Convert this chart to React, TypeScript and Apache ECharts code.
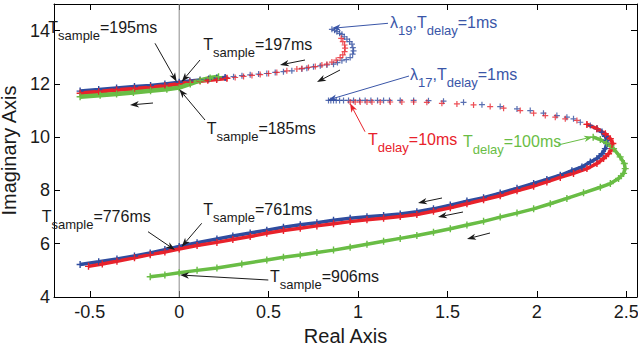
import React, { useEffect, useRef } from 'react';
import * as echarts from 'echarts';

const FONT = "'Liberation Sans', Arial, Helvetica, sans-serif";

// ---------- axis ticks ----------
const xTicks = [-0.5, 0, 0.5, 1, 1.5, 2, 2.5];
const yTicks = [4, 6, 8, 10, 12, 14];
const zeroLine = [[0, 4], [0, 15]];

// ---------- T_delay = 1 ms (blue) ----------
const blueUpperSparse = [
  [0.854, 14.05], [0.869, 14.01], [0.882, 13.96], [0.897, 13.9], [0.91, 13.86], [0.923, 13.77],
  [0.938, 13.68], [0.953, 13.59], [0.966, 13.49], [0.971, 13.36], [0.975, 13.24], [0.97, 13.12],
  [0.956, 12.99], [0.934, 12.91], [0.91, 12.87], [0.885, 12.8], [0.863, 12.74], [0.826, 12.71],
  [0.789, 12.68], [0.751, 12.64], [0.714, 12.59], [0.686, 12.56], [0.63, 12.49], [0.583, 12.46],
  [0.537, 12.43], [0.49, 12.39], [0.444, 12.37], [0.397, 12.34], [0.351, 12.31], [0.304, 12.27],
  [0.257, 12.24],
];
const blueUpperDense = [
  [0.257, 12.24], [0.21, 12.22], [0.165, 12.18], [0.117, 12.15], [0.06, 12.11], [0, 12.06],
  [-0.08, 12.0], [-0.16, 11.94], [-0.25, 11.9], [-0.35, 11.85], [-0.45, 11.79], [-0.554, 11.73],
];
const blueLowerSparse = [
  [0.835, 11.38], [0.848, 11.38], [0.863, 11.38], [0.878, 11.38], [0.897, 11.38], [0.919, 11.38],
  [0.947, 11.38], [0.975, 11.38], [1.009, 11.38], [1.04, 11.38], [1.072, 11.38], [1.109, 11.38],
  [1.143, 11.38], [1.176, 11.38], [1.236, 11.38], [1.311, 11.38], [1.394, 11.37], [1.478, 11.35],
  [1.59, 11.31], [1.693, 11.22], [1.795, 11.15], [1.889, 11.06], [1.963, 11.0], [2.037, 10.9],
  [2.112, 10.81], [2.168, 10.75], [2.205, 10.69], [2.243, 10.56], [2.299, 10.44], [2.336, 10.32],
];
const blueLowerDense = [
  [2.336, 10.32], [2.364, 10.19], [2.383, 10.03], [2.392, 9.88], [2.392, 9.76], [2.383, 9.57],
  [2.364, 9.38], [2.336, 9.2], [2.299, 9.07], [2.252, 8.88], [2.196, 8.74], [2.131, 8.57],
  [2.056, 8.41], [1.982, 8.26], [1.889, 8.08], [1.795, 7.9], [1.702, 7.73], [1.609, 7.6],
  [1.516, 7.45], [1.422, 7.31], [1.329, 7.2], [1.236, 7.12], [1.143, 7.06], [1.05, 7.01],
  [0.956, 6.96], [0.863, 6.88], [0.77, 6.79], [0.677, 6.71], [0.583, 6.62], [0.49, 6.51],
  [0.397, 6.4], [0.3, 6.29], [0.211, 6.18], [0.1, 6.04], [0, 5.9], [-0.08, 5.78],
  [-0.162, 5.65], [-0.25, 5.54], [-0.348, 5.43], [-0.45, 5.32], [-0.554, 5.22],
];

// ---------- T_delay = 10 ms (red) ----------
const redUpperSparse = [
  [0.906, 13.71], [0.915, 13.59], [0.925, 13.46], [0.928, 13.34], [0.925, 13.21], [0.915, 13.09],
  [0.9, 12.99], [0.878, 12.89], [0.854, 12.82], [0.826, 12.74], [0.798, 12.71], [0.761, 12.65],
  [0.723, 12.62], [0.686, 12.58], [0.658, 12.56], [0.602, 12.49], [0.546, 12.43], [0.5, 12.39],
  [0.453, 12.35], [0.407, 12.32], [0.36, 12.28], [0.313, 12.24], [0.267, 12.21],
];
const redUpperDense = [
  [0.267, 12.21], [0.21, 12.17], [0.16, 12.14], [0.117, 12.11], [0.06, 12.06], [0, 12.0],
  [-0.08, 11.93], [-0.16, 11.87], [-0.25, 11.82], [-0.35, 11.77], [-0.45, 11.71], [-0.554, 11.65],
];
const redLowerSparse = [
  [0.956, 11.32], [0.984, 11.32], [1.012, 11.32], [1.05, 11.32], [1.078, 11.32], [1.124, 11.32],
  [1.18, 11.32], [1.245, 11.32], [1.311, 11.32], [1.385, 11.31], [1.469, 11.27], [1.553, 11.25],
  [1.646, 11.21], [1.739, 11.15], [1.814, 11.09], [1.907, 11.0], [1.982, 10.9], [2.047, 10.81],
  [2.103, 10.75], [2.159, 10.69], [2.224, 10.63], [2.28, 10.48],
];
const redLowerDense = [
  [2.28, 10.48], [2.336, 10.32], [2.383, 10.13], [2.411, 9.94], [2.425, 9.76], [2.42, 9.57],
  [2.401, 9.38], [2.373, 9.2], [2.336, 9.01], [2.28, 8.82], [2.205, 8.64], [2.131, 8.49],
  [2.056, 8.32], [1.982, 8.16], [1.889, 7.99], [1.795, 7.8], [1.702, 7.65], [1.609, 7.5],
  [1.516, 7.35], [1.422, 7.22], [1.329, 7.1], [1.236, 7.02], [1.143, 6.96], [1.05, 6.9],
  [0.956, 6.83], [0.863, 6.75], [0.77, 6.67], [0.677, 6.58], [0.583, 6.5], [0.49, 6.39],
  [0.397, 6.27], [0.3, 6.16], [0.211, 6.05], [0.1, 5.93], [0, 5.8], [-0.08, 5.69],
  [-0.162, 5.59], [-0.25, 5.47], [-0.348, 5.34], [-0.43, 5.24], [-0.507, 5.15],
];

// ---------- T_delay = 100 ms (green) ----------
const greenUpper = [
  [0.22, 12.27], [0.173, 12.22], [0.117, 12.13], [0.062, 12.0], [0, 11.86], [-0.069, 11.8],
  [-0.16, 11.74], [-0.256, 11.68], [-0.35, 11.62], [-0.442, 11.57], [-0.554, 11.52],
];
const greenLower = [
  [2.315, 10.0], [2.355, 9.91], [2.39, 9.77], [2.429, 9.57], [2.466, 9.26], [2.489, 9.01],
  [2.494, 8.82], [2.485, 8.64], [2.457, 8.45], [2.411, 8.26], [2.355, 8.12], [2.261, 7.91],
  [2.168, 7.7], [2.075, 7.5], [1.982, 7.31], [1.889, 7.15], [1.795, 7.0], [1.702, 6.84],
  [1.609, 6.7], [1.516, 6.56], [1.422, 6.43], [1.329, 6.31], [1.236, 6.2], [1.143, 6.09],
  [1.05, 5.98], [0.956, 5.87], [0.863, 5.76], [0.77, 5.67], [0.677, 5.58], [0.583, 5.49],
  [0.49, 5.39], [0.35, 5.24], [0.211, 5.09], [0.1, 5.0], [0, 4.91], [-0.08, 4.83], [-0.162, 4.76],
];

// ---------- annotation texts ----------
type Seg = [string, boolean]; // [text, subscript]
const labelTexts: Seg[][] = [
  [['T', false], ['sample', true], ['=195ms', false]],
  [['T', false], ['sample', true], ['=197ms', false]],
  [['T', false], ['sample', true], ['=185ms', false]],
  [['T', false], ['sample', true], ['=776ms', false]],
  [['T', false], ['sample', true], ['=761ms', false]],
  [['T', false], ['sample', true], ['=906ms', false]],
  [['λ', false], ['19', true], [',', false], ['T', false], ['delay', true], ['=1ms', false]],
  [['λ', false], ['17', true], [',', false], ['T', false], ['delay', true], ['=1ms', false]],
  [['T', false], ['delay', true], ['=10ms', false]],
  [['T', false], ['delay', true], ['=100ms', false]],
];

const BLUE = '#2f4c9f';
const RED = '#e8222b';
const GREEN = '#69bd45';
const BLUE_T = '#3a56a8';
const BLACK = '#1a1a1a';

// layout of annotations (pixel positions: left, baseline)
const labelLayout = [
  { x: 48.3, y: 33.3, color: BLACK },
  { x: 203.3, y: 50, color: BLACK },
  { x: 206.7, y: 134, color: BLACK },
  { x: 41.7, y: 221.7, color: BLACK },
  { x: 203.3, y: 215, color: BLACK },
  { x: 270, y: 281.7, color: BLACK },
  { x: 390, y: 28.3, color: BLUE_T },
  { x: 410, y: 80, color: BLUE_T },
  { x: 368, y: 145, color: RED },
  { x: 463, y: 146.7, color: GREEN },
];

const arrowLayout = [
  { from: [155, 43.3], to: [176.7, 81.7], color: BLACK },
  { from: [200, 60], to: [181.7, 81.7], color: BLACK },
  { from: [205, 120], to: [179.3, 89.3], color: BLACK },
  { from: [148, 231.7], to: [175, 250], color: BLACK },
  { from: [201.7, 223.3], to: [181.7, 246.7], color: BLACK },
  { from: [268.3, 280], to: [180, 275], color: BLACK },
  { from: [388, 23.3], to: [331.7, 28.3], color: BLUE_T },
  { from: [409, 76], to: [328, 100], color: BLUE_T },
  { from: [365, 131.7], to: [350, 103.3], color: RED },
  { from: [558, 145], to: [593, 136.7], color: GREEN },
  { from: [305, 60], to: [280, 65], color: BLACK },
  { from: [340, 70], to: [317, 82], color: BLACK },
  { from: [153, 103], to: [130, 105], color: BLACK },
  { from: [442, 198], to: [418, 203], color: BLACK },
  { from: [463, 212], to: [438, 217], color: BLACK },
  { from: [490, 233], to: [467, 239], color: BLACK },
];

const CROSS = 'path://M2,0H3V2H5V3H3V5H2V3H0V2H2Z';
const MAIN_SIZE = 16;
const SUB_SIZE = 13;
const SUB_DROP = 7;

function buildGraphics(): any[] {
  const canvas = document.createElement('canvas');
  const ctx = canvas.getContext('2d')!;
  const measure = (t: string, size: number) => {
    ctx.font = `${size}px ${FONT}`;
    return ctx.measureText(t).width;
  };
  const out: any[] = [];
  labelTexts.forEach((segs, i) => {
    const lay = labelLayout[i];
    let cx = lay.x;
    segs.forEach(([t, sub]) => {
      const size = sub ? SUB_SIZE : MAIN_SIZE;
      const base = lay.y + (sub ? SUB_DROP : 0);
      out.push({
        type: 'text',
        x: cx,
        y: base - 0.3465 * size,
        z: 100,
        style: {
          text: t,
          font: `${size}px ${FONT}`,
          fill: lay.color,
          textAlign: 'left',
          textVerticalAlign: 'middle',
          align: 'left',
          verticalAlign: 'middle',
        },
      });
      cx += measure(t, size);
    });
  });
  arrowLayout.forEach((a) => {
    const [x1, y1] = a.from;
    const [x2, y2] = a.to;
    const dx = x2 - x1;
    const dy = y2 - y1;
    const len = Math.hypot(dx, dy);
    const ux = dx / len;
    const uy = dy / len;
    const L = 9;
    const W = 3.2;
    const bx = x2 - ux * L;
    const by = y2 - uy * L;
    const nx = bx + ux * 2.5;
    const ny = by + uy * 2.5;
    out.push({
      type: 'line',
      z: 100,
      shape: { x1, y1, x2: nx, y2: ny },
      style: { stroke: a.color, lineWidth: 1 },
    });
    out.push({
      type: 'polygon',
      z: 100,
      shape: {
        points: [
          [x2, y2],
          [bx - uy * W, by + ux * W],
          [nx, ny],
          [bx + uy * W, by - ux * W],
        ],
      },
      style: { fill: a.color },
    });
  });
  return out;
}

function sparse(data: number[][], color: string) {
  return {
    type: 'scatter',
    data,
    symbol: CROSS,
    symbolSize: 6,
    itemStyle: { color },
    z: 3,
    silent: true,
  };
}

function dense(data: number[][], color: string, width: number) {
  return {
    type: 'line',
    data,
    symbol: CROSS,
    symbolSize: 7,
    showSymbol: true,
    lineStyle: { color, width },
    itemStyle: { color },
    z: 3,
    silent: true,
  };
}

export default function App() {
  const ref = useRef<HTMLDivElement>(null);
  useEffect(() => {
    document.body.style.margin = '0';
    const chart = echarts.init(ref.current!, null, { renderer: 'svg' });
    const axisCommon = {
      type: 'value',
      splitLine: { show: false },
      axisLine: { show: true, onZero: false, lineStyle: { color: '#000', width: 1 } },
    };
    const option: any = {
      animation: false,
      grid: { left: 54, right: 1, top: 4, bottom: 46, containLabel: false, outerBoundsMode: 'none' },
      xAxis: [
        {
          ...axisCommon,
          min: -0.7,
          max: 2.56,
          position: 'bottom',
          axisTick: { show: true, inside: true, length: 6, customValues: xTicks, lineStyle: { color: '#000' } },
          axisLabel: {
            customValues: xTicks,
            fontSize: 18,
            color: BLACK,
            margin: 6,
            fontFamily: FONT,
            formatter: (v: number) => String(v),
          },
          name: 'Real Axis',
          nameLocation: 'middle',
          nameGap: 20,
          nameTextStyle: { fontSize: 20, color: BLACK, fontFamily: FONT },
        },
        {
          ...axisCommon,
          min: -0.7,
          max: 2.56,
          position: 'top',
          axisTick: { show: true, inside: true, length: 6, customValues: xTicks, lineStyle: { color: '#000' } },
          axisLabel: { show: false },
        },
      ],
      yAxis: [
        {
          ...axisCommon,
          min: 4,
          max: 15,
          position: 'left',
          axisTick: { show: true, inside: true, length: 6, customValues: yTicks, lineStyle: { color: '#000' } },
          axisLabel: {
            customValues: yTicks,
            fontSize: 18,
            color: BLACK,
            margin: 4,
            fontFamily: FONT,
            formatter: (v: number) => String(v),
          },
          name: 'Imaginary Axis',
          nameLocation: 'middle',
          nameGap: 28,
          nameTextStyle: { fontSize: 20, color: BLACK, fontFamily: FONT },
        },
        {
          ...axisCommon,
          min: 4,
          max: 15,
          position: 'right',
          axisTick: { show: true, inside: true, length: 6, customValues: yTicks, lineStyle: { color: '#000' } },
          axisLabel: { show: false },
        },
      ],
      series: [
        {
          type: 'line',
          data: zeroLine,
          symbol: 'none',
          lineStyle: { color: '#8c8c8c', width: 1 },
          z: 1,
          silent: true,
        },
        sparse(blueUpperSparse, BLUE),
        dense(blueUpperDense, BLUE, 3.5),
        sparse(blueLowerSparse, BLUE),
        dense(blueLowerDense, BLUE, 3.5),
        sparse(redUpperSparse, RED),
        dense(redUpperDense, RED, 4),
        sparse(redLowerSparse, RED),
        dense(redLowerDense, RED, 3.5),
        dense(greenUpper, GREEN, 4.5),
        dense(greenLower, GREEN, 3.5),
      ],
      graphic: buildGraphics(),
    };
    chart.setOption(option);
    return () => chart.dispose();
  }, []);
  return (
    <div
      ref={ref}
      style={{ position: 'absolute', left: 0, top: 0, width: 638, height: 343, background: '#fff' }}
    />
  );
}
